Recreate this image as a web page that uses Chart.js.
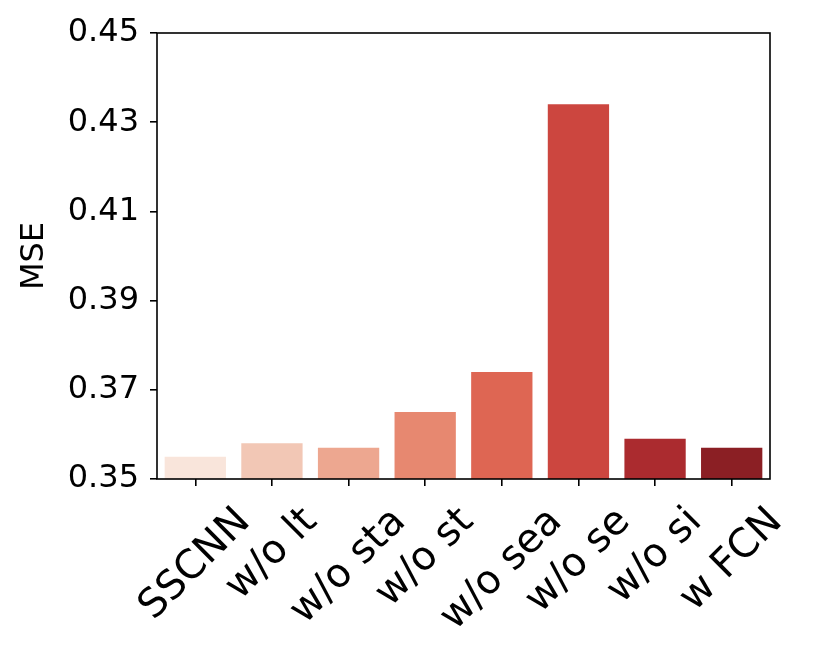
<!DOCTYPE html>
<html>
<head>
<meta charset="utf-8">
<script src="https://cdn.jsdelivr.net/npm/chart.js@4.4.1/dist/chart.umd.min.js"></script>
<style>
  html, body { margin: 0; padding: 0; background: #ffffff; }
  #wrap { width: 815px; height: 667px; position: relative; }
</style>
</head>
<body>
<div id="wrap"><canvas id="c" width="815" height="667"></canvas></div>
<script>
// ---- data ----
const categories = ["SSCNN", "w/o lt", "w/o sta", "w/o st", "w/o sea", "w/o se", "w/o si", "w FCN"];
const mseValues = [0.355, 0.358, 0.357, 0.365, 0.374, 0.434, 0.359, 0.357];
const yTickValues = [0.35, 0.37, 0.39, 0.41, 0.43, 0.45];
const yAxisTitle = "MSE";

// ---- style ----
const basePalette = ['#fee3d6', '#fcc3ab', '#fc9f81', '#fb7c5c', '#f5553c', '#e33128', '#c1151b', '#9d0d14'];
function desaturate(hex, prop) {
  let r = parseInt(hex.slice(1,3),16)/255, g = parseInt(hex.slice(3,5),16)/255, b = parseInt(hex.slice(5,7),16)/255;
  const mx = Math.max(r,g,b), mn = Math.min(r,g,b);
  const l = (mx+mn)/2;
  let h = 0, s = 0;
  const d = mx - mn;
  if (d > 0) {
    s = l > 0.5 ? d/(2-mx-mn) : d/(mx+mn);
    if (mx === r) h = ((g-b)/d + (g < b ? 6 : 0));
    else if (mx === g) h = (b-r)/d + 2;
    else h = (r-g)/d + 4;
    h /= 6;
  }
  s *= prop;
  function hue2rgb(p, q, t) {
    if (t < 0) t += 1; if (t > 1) t -= 1;
    if (t < 1/6) return p + (q-p)*6*t;
    if (t < 1/2) return q;
    if (t < 2/3) return p + (q-p)*(2/3-t)*6;
    return p;
  }
  const q = l < 0.5 ? l*(1+s) : l+s-l*s;
  const p = 2*l - q;
  const rr = hue2rgb(p,q,h+1/3), gg = hue2rgb(p,q,h), bb = hue2rgb(p,q,h-1/3);
  return 'rgb(' + Math.round(rr*255) + ',' + Math.round(gg*255) + ',' + Math.round(bb*255) + ')';
}
const barColors = basePalette.map(c => desaturate(c, 0.75));

const FONT = '"DejaVu Sans", "Liberation Sans", sans-serif';
const PLOT = { left: 157, right: 770, top: 33, bottom: 479 };

const frameAndLabels = {
  id: 'frameAndLabels',
  afterDraw(chart) {
    const ctx = chart.ctx;
    const a = chart.chartArea;
    ctx.save();
    ctx.strokeStyle = '#000';
    ctx.lineWidth = 1.6;
    ctx.strokeRect(a.left, a.top, a.right - a.left, a.bottom - a.top);
    // rotated x tick labels, centered on tick (matplotlib rotation=45, ha=center)
    const xs = chart.scales.x;
    const fs = 40;
    ctx.font = fs + 'px ' + FONT;
    ctx.fillStyle = '#000';
    ctx.textAlign = 'center';
    ctx.textBaseline = 'middle';
    categories.forEach((lab, i) => {
      const x = xs.getPixelForValue(i);
      const w = ctx.measureText(lab).width;
      const h = fs * 1.17;
      const half = (w + h) / Math.SQRT2 / 2;
      const top = a.bottom + 7 + 13;
      ctx.save();
      ctx.translate(x, top + half);
      ctx.rotate(-Math.PI / 4);
      ctx.fillText(lab, 0, 0);
      ctx.restore();
    });
    ctx.restore();
  }
};

new Chart(document.getElementById('c'), {
  type: 'bar',
  data: {
    labels: categories,
    datasets: [{
      data: mseValues,
      backgroundColor: barColors,
      borderWidth: 0,
      categoryPercentage: 1.0,
      barPercentage: 0.8
    }]
  },
  options: {
    responsive: false,
    animation: false,
    devicePixelRatio: 1,
    layout: { padding: { top: PLOT.top, right: 815 - PLOT.right, left: 0, bottom: 0 } },
    plugins: { legend: { display: false }, tooltip: { enabled: false } },
    scales: {
      x: {
        offset: true,
        grid: { display: true, drawOnChartArea: false, offset: false, drawTicks: true, tickLength: 7, tickWidth: 1.6, tickColor: '#000', lineWidth: 1.6, color: '#000' },
        border: { display: false },
        ticks: { display: false },
        afterFit(scale) { scale.height = 667 - PLOT.bottom; }
      },
      y: {
        min: 0.35,
        max: 0.45,
        grid: { display: true, drawOnChartArea: false, drawTicks: true, tickLength: 7, tickWidth: 1.6, tickColor: '#000', lineWidth: 1.6, color: '#000' },
        border: { display: false },
        afterBuildTicks(scale) { scale.ticks = yTickValues.map(v => ({ value: v })); },
        ticks: {
          color: '#000',
          font: { family: FONT, size: 32 },
          padding: 11,
          callback: (v) => Number(v).toFixed(2)
        },
        title: {
          display: true,
          text: yAxisTitle,
          color: '#000',
          font: { family: FONT, size: 32 },
          padding: { top: 15, bottom: 0 }
        },
        afterFit(scale) { scale.width = PLOT.left; }
      }
    }
  },
  plugins: [frameAndLabels]
});
</script>
</body>
</html>
